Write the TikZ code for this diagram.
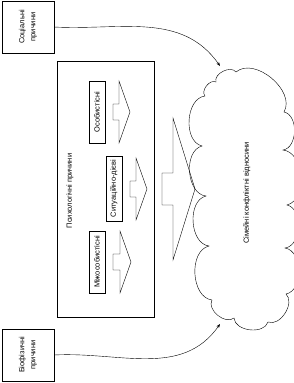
\documentclass[tikz,border=0pt]{standalone}
\usepackage{fontspec}
\setmainfont{Liberation Sans}
\usetikzlibrary{arrows.meta, positioning}

\begin{document}
\begin{tikzpicture}[
        x=1bp, y=-1bp,
        every node/.style={font=\fontsize{7.5}{11}\selectfont, inner sep=0pt},
        causebox/.style={rectangle, draw, thin, align=center, rotate=90, minimum width=52bp, minimum height=52bp},
        factorbox/.style={rectangle, draw, thin, rotate=90, minimum width=62bp, minimum height=16bp},
        blockarrow/.style={draw, thin, line join=miter},
        puff/.style={bend left=80},
        link/.style={-{Stealth[length=4bp, width=3bp]}, thin}
    ]
        \useasboundingbox (0,0) rectangle (294,383);

        \node[causebox] (social) at (28,27) {Соціальні\\причини};
        \node[causebox] (bio) at (28,355) {Біофізичні\\причини};

        \node[rectangle, draw, thin, minimum width=97bp, minimum height=256bp] (psych) at (105.5,189) {};
        \node[rotate=90] (psychlabel) at (70,191) {Психологічні причини};

        \node[factorbox] (personal) at (97,112) {Особистісні};
        \node[factorbox, minimum width=65bp] (situational) at (114,188.5) {Ситуаційно-дієві};
        \node[factorbox] (interpersonal) at (97,262) {Міжособистісні};

        % block arrows: shaft start / head base / tip / centre / shaft half / head half
        \foreach \sx/\hx/\tx/\cy/\sh/\hh in {113/119/130/112/8/31, 130/136/147/189/8/31, 113/120/131/262/8/31, 162/173/195/189/16/71}
            \draw[blockarrow] (\sx,\cy-\sh) -- (\hx,\cy-\sh) -- (\hx,\cy-\hh) -- (\tx,\cy)
                -- (\hx,\cy+\hh) -- (\hx,\cy+\sh) -- (\sx,\cy+\sh) -- cycle;

        % cloud outline, clockwise
        \draw[thin] (216,82) to[puff] (236,72) to[puff] (284,112) to[puff] (283,150)
            to[puff] (287,205) to[puff] (285,248) to[puff] (286,294) to[puff] (268,322)
            to[puff] (234,318) to[puff] (212,300) to[puff] (209,246) to[puff] (206,196)
            to[puff] (202,146) to[puff] (205,96) to[puff] cycle;
        \node[rotate=90] (family) at (247,193) {Сімейні конфліктні відносини};

        \coordinate (toptip) at (220,66);
        \coordinate (bottip) at (220,324);
        \draw[link] (social.south) to[out=-3, in=125] (toptip);
        \draw[link] (bio.south) to[out=3, in=-125] (bottip);
    \end{tikzpicture}
\end{document}
